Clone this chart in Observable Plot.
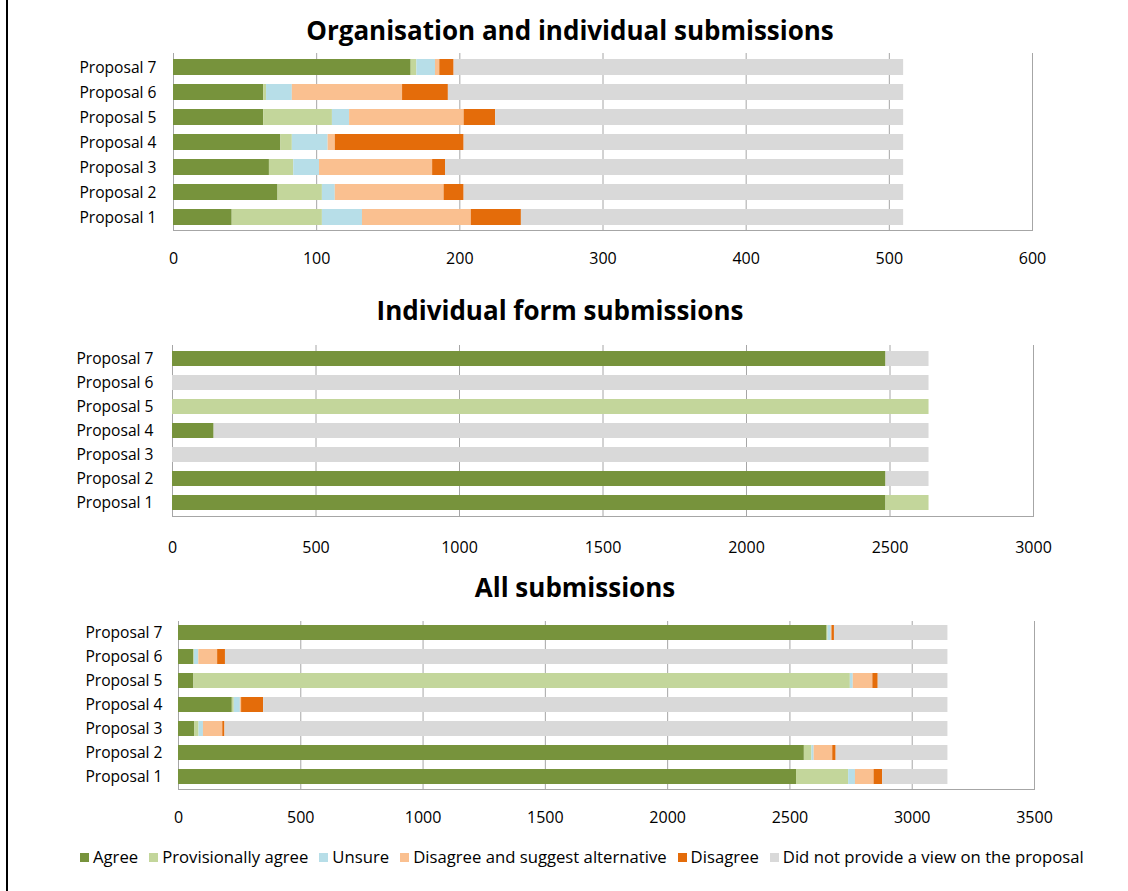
<!DOCTYPE html>
<html><head><meta charset="utf-8">
<script src="https://cdn.jsdelivr.net/npm/d3@7"></script>
<script src="https://cdn.jsdelivr.net/npm/@observablehq/plot@0.6"></script>
<style>
body{margin:0;background:#fff;font-family:"Open Sans",sans-serif;}
#wrap{position:relative;width:1128px;height:891px;overflow:hidden;background:#fff;}
.title{position:absolute;transform:translateX(-50%);font-weight:bold;font-size:26px;white-space:nowrap;color:#000;line-height:30px;}
.chart{position:absolute;left:0;}
#border{position:absolute;left:6px;top:0;width:2px;height:891px;background:#000;}
#legend{position:absolute;top:846px;left:80px;display:flex;font-size:16.7px;color:#000;white-space:nowrap;line-height:22px;}
#legend .it{display:flex;align-items:center;margin-right:11px;}
#legend .sw{width:9px;height:9px;margin-right:4px;}
</style></head>
<body><div id="wrap">
<div id="border"></div>
<div class="title" style="left:570px;top:15px">Organisation and individual submissions</div>
<div class="title" style="left:560px;top:295px">Individual form submissions</div>
<div class="title" style="left:575px;top:572px">All submissions</div>
<div class="chart" id="c1" style="top:40px"></div>
<div class="chart" id="c2" style="top:330px"></div>
<div class="chart" id="c3" style="top:606px"></div>
<div id="legend"></div>
</div>
<script>
const proposals = ["Proposal 1","Proposal 2","Proposal 3","Proposal 4","Proposal 5","Proposal 6","Proposal 7"];
const statuses = ["Agree","Provisionally agree","Unsure","Disagree and suggest alternative","Disagree","Did not provide a view on the proposal"];
const colors = ["#77933C","#C3D69B","#B7DEE8","#FAC090","#E46C0A","#D9D9D9"];

// Organisation and individual submissions (Proposal 1..7)
const orgAgree  = [41,73,67,75,63,63,166];
const orgProv   = [63,31,17,8,48,2,4];
const orgUnsure = [28,9,18,25,12,18,13];
const orgAlt    = [76,76,79,5,80,77,3];
const orgDis    = [35,14,9,90,22,32,10];
const orgNone   = [267,307,320,307,285,318,314];

// Individual form submissions
const indAgree  = [2486,2486,0,145,0,0,2486];
const indProv   = [150,0,0,0,2636,0,0];
const indUnsure = [0,0,0,0,0,0,0];
const indAlt    = [0,0,0,0,0,0,0];
const indDis    = [0,0,0,0,0,0,0];
const indNone   = [0,150,2636,2491,0,2636,150];

// All submissions
const allAgree  = [2527,2559,67,220,63,63,2652];
const allProv   = [213,31,17,8,2684,2,4];
const allUnsure = [28,9,18,25,12,18,13];
const allAlt    = [76,76,79,5,80,77,3];
const allDis    = [35,14,9,90,22,32,10];
const allNone   = [267,457,2956,2798,285,2954,464];

const ticks1 = [0,100,200,300,400,500,600];
const ticks2 = [0,500,1000,1500,2000,2500,3000];
const ticks3 = [0,500,1000,1500,2000,2500,3000,3500];

function rows(series){
  const out=[];
  proposals.forEach((p,i)=>{
    series.forEach((s,k)=>{ if(s[i]>0) out.push({proposal:p,status:statuses[k],value:s[i]}); });
  });
  return out;
}

function chart(series, ticks, o){
  const data = rows(series);
  return Plot.plot({
    width:1128, height:o.height,
    marginLeft:o.ml, marginRight:o.mr, marginTop:o.mt, marginBottom:o.mb,
    style:{fontFamily:"Open Sans, sans-serif", fontSize:"15.5px", color:"#000", background:"transparent", overflow:"visible"},
    x:{domain:[ticks[0], ticks[ticks.length-1]], axis:null, label:null},
    y:{domain:proposals.slice().reverse(), paddingInner:0.36, paddingOuter:0.18, axis:null, label:null},
    color:{domain:statuses, range:colors},
    marks:[
      Plot.gridX(ticks,{stroke:"#a6a6a6", strokeOpacity:1}),
      Plot.barX(data, Plot.stackX({x:"value", y:"proposal", fill:"status", order:statuses})),
      Plot.frame({anchor:"bottom", stroke:"#a6a6a6"}),
      Plot.axisX(ticks,{tickSize:0, tickPadding:o.xp, tickFormat:d3.format("d"), fontSize:"16px", label:null}),
      Plot.axisY({tickSize:0, tickPadding:o.yp, fontSize:"15.6px", label:null})
    ]
  });
}

document.getElementById("c1").append(chart([orgAgree,orgProv,orgUnsure,orgAlt,orgDis,orgNone], ticks1,
  {height:233, ml:173, mr:96, mt:13, mb:43, xp:22, yp:17}));
document.getElementById("c2").append(chart([indAgree,indProv,indUnsure,indAlt,indDis,indNone], ticks2,
  {height:230, ml:172, mr:95, mt:15, mb:44, xp:25, yp:19}));
document.getElementById("c3").append(chart([allAgree,allProv,allUnsure,allAlt,allDis,allNone], ticks3,
  {height:226, ml:178, mr:94, mt:15, mb:43, xp:22, yp:16}));

const lg = document.getElementById("legend");
statuses.forEach((s,i)=>{
  const it=document.createElement("div"); it.className="it";
  const sw=document.createElement("div"); sw.className="sw"; sw.style.background=colors[i];
  const tx=document.createElement("span"); tx.textContent=s;
  it.append(sw,tx); lg.append(it);
});
</script>
</body></html>
